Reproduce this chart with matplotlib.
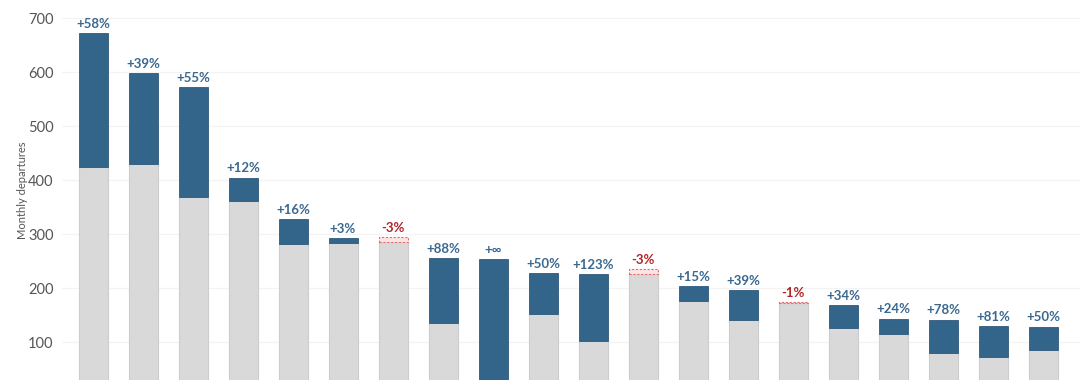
import matplotlib
matplotlib.use("Agg")
import matplotlib.pyplot as plt

old_vals = [425, 430, 369, 362, 282, 284, 295, 136, 0, 152, 102, 235, 177, 141, 174, 126, 116, 80, 72, 86]
new_vals = [672, 598, 572, 405, 328, 293, 286, 256, 254, 228, 227, 227, 204, 196, 172, 169, 144, 142, 130, 129]
labels = ["+58%", "+39%", "+55%", "+12%", "+16%", "+3%", "-3%", "+88%", "+\u221e", "+50%",
          "+123%", "-3%", "+15%", "+39%", "-1%", "+34%", "+24%", "+78%", "+81%", "+50%"]
yticks = [100, 200, 300, 400, 500, 600, 700]

plt.rcParams['font.family'] = ['Lato', 'DejaVu Sans']

fig = plt.figure(figsize=(10.8, 3.8), dpi=100)
ax = fig.add_axes([62/1080, 0, 1018/1080, 1])

grey = "#d9d9d9"
grey_edge = "#cccccc"
blue = "#336489"
w = 0.58

for i, (o, n) in enumerate(zip(old_vals, new_vals)):
    if n >= o:
        ax.bar(i, o, width=w, color=grey, edgecolor=grey_edge, linewidth=0.8, zorder=2)
        ax.bar(i, n - o, bottom=o, width=w, color=blue, edgecolor="#2e5a7d", linewidth=0.6, zorder=2)
        ax.text(i, n + 6, labels[i], ha="center", va="bottom", color="#3a6890",
                fontsize=9.5, fontweight="bold", zorder=3)
    else:
        ax.bar(i, n, width=w, color=grey, edgecolor=grey_edge, linewidth=0.8, zorder=2)
        ax.bar(i, o - n, bottom=n, width=w, color="#fde3e3", edgecolor="#e07070",
               linewidth=0.8, linestyle=(0, (2, 1.5)), zorder=2)
        ax.text(i, o + 6, labels[i], ha="center", va="bottom", color="#b22424",
                fontsize=9.5, fontweight="bold", zorder=3)

ax.set_xlim(-0.62, 19.74)
ax.set_ylim(30.2, 734)
ax.set_yticks(yticks)
ax.set_xticks([])
ax.tick_params(axis="y", length=0, labelsize=10.5, labelcolor="#555555", pad=6)
ax.yaxis.grid(True, color="#f3f3f3", linewidth=0.9, zorder=0)
ax.set_axisbelow(True)
for s in ax.spines.values():
    s.set_visible(False)
ax.set_ylabel("Monthly departures", fontsize=8, color="#555555", labelpad=0)

fig.savefig("out.png", dpi=100)
